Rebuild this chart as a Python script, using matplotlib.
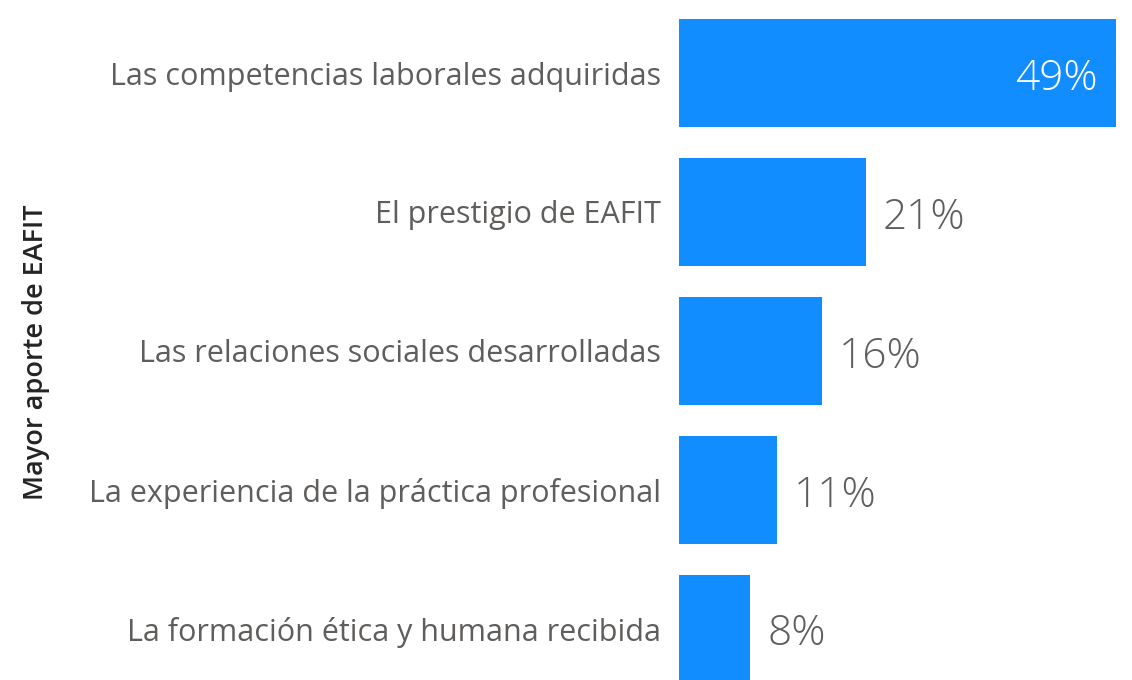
import matplotlib.pyplot as plt

plt.rcParams['font.family'] = ['Open Sans', 'DejaVu Sans']

# Data
categories = ['Las competencias laborales adquiridas',
              'El prestigio de EAFIT',
              'Las relaciones sociales desarrolladas',
              'La experiencia de la práctica profesional',
              'La formación ética y humana recibida']
values = [49, 21, 16, 11, 8]
value_labels = ['49%', '21%', '16%', '11%', '8%']
axis_title = 'Mayor aporte de EAFIT'

bar_color = '#118DFF'
label_color = '#605E5C'

fig = plt.figure(figsize=(11.32, 6.8), dpi=100)
ax = fig.add_axes([679 / 1132, 0, (1116 - 679) / 1132, 1])

pos = list(range(len(categories)))
ax.barh(pos, values, height=0.777, color=bar_color)
ax.set_xlim(0, 49)
ax.set_ylim(4.370, -0.5256)

ax.set_yticks(pos)
ax.set_yticklabels(categories, fontsize=22, color=label_color)
ax.tick_params(axis='y', length=0, pad=13)
ax.set_xticks([])
for s in ax.spines.values():
    s.set_visible(False)

for i, (v, lab) in enumerate(zip(values, value_labels)):
    if v == max(values):
        ax.annotate(lab, (v, i), xytext=(-13, -4), textcoords='offset points',
                    ha='right', va='center', fontsize=30.5, color='white',
                    fontweight='light')
    else:
        ax.annotate(lab, (v, i), xytext=(12, -4), textcoords='offset points',
                    ha='left', va='center', fontsize=30.5, color=label_color,
                    fontweight='light', annotation_clip=False)

fig.text(36 / 1132, 1 - 352 / 680, axis_title, rotation=90, ha='center',
         va='center', fontsize=19.5, fontweight='semibold', color='#252423')

plt.savefig('out.png', dpi=100)
